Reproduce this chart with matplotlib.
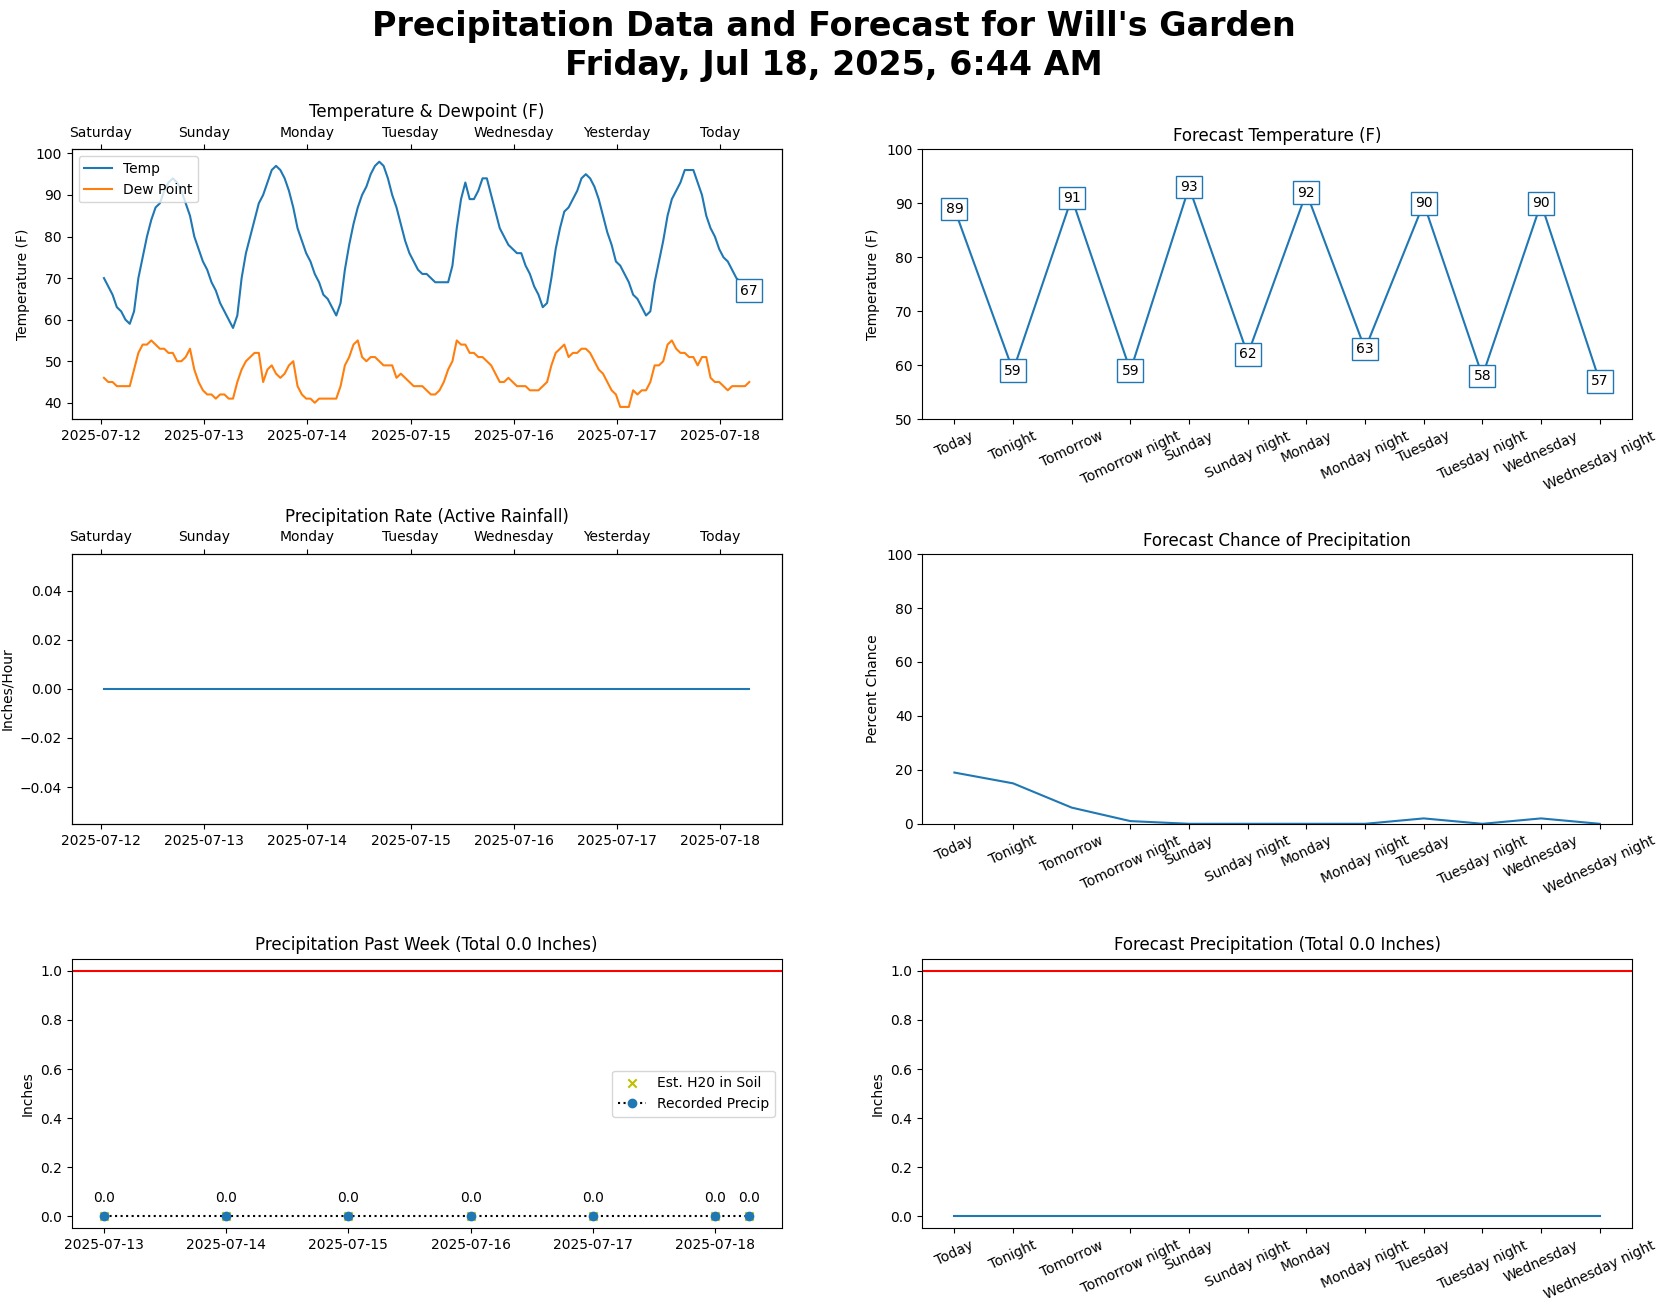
import pandas as pd
import numpy as np
import matplotlib
matplotlib.use("Agg")
import matplotlib.pyplot as plt
import matplotlib.dates as mdates

# hourly observations, Jul 12 00:44 -> Jul 18 06:44
times = pd.date_range("2025-07-12 00:44", periods=151, freq="h")

temp = [70, 68, 66, 63, 62, 60, 59, 62, 70, 75, 80, 84, 87, 88, 91, 93, 94, 93, 91, 88, 85, 80, 77, 74,
        72, 69, 67, 64, 62, 60, 58, 61, 70, 76, 80, 84, 88, 90, 93, 96, 97, 96, 94, 91, 87, 82, 79, 76,
        74, 71, 69, 66, 65, 63, 61, 64, 72, 78, 83, 87, 90, 92, 95, 97, 98, 97, 94, 90, 87, 83, 79, 76,
        74, 72, 71, 71, 70, 69, 69, 69, 69, 73, 82, 89, 93, 89, 89, 91, 94, 94, 90, 86, 82, 80, 78, 77,
        76, 76, 73, 71, 68, 66, 63, 64, 70, 77, 82, 86, 87, 89, 91, 94, 95, 94, 92, 89, 85, 81, 78, 74,
        73, 71, 69, 66, 65, 63, 61, 62, 69, 74, 79, 85, 89, 91, 93, 96, 96, 96, 93, 90, 85, 82, 80, 77,
        75, 74, 72, 70, 69, 68, 67]

dewpoint = [46, 45, 45, 44, 44, 44, 44, 48, 52, 54, 54, 55, 54, 53, 53, 52, 52, 50, 50, 51, 53, 48, 45, 43,
            42, 42, 41, 42, 42, 41, 41, 45, 48, 50, 51, 52, 52, 45, 48, 49, 47, 46, 47, 49, 50, 44, 42, 41,
            41, 40, 41, 41, 41, 41, 41, 44, 49, 51, 54, 55, 51, 50, 51, 51, 50, 49, 49, 49, 46, 47, 46, 45,
            44, 44, 44, 43, 42, 42, 43, 45, 48, 50, 55, 54, 54, 52, 52, 51, 51, 50, 49, 47, 45, 45, 46, 45,
            44, 44, 44, 43, 43, 43, 44, 45, 49, 52, 53, 54, 51, 52, 52, 53, 53, 52, 50, 48, 47, 45, 43, 42,
            39, 39, 39, 43, 42, 43, 43, 45, 49, 49, 50, 54, 55, 53, 52, 52, 51, 51, 49, 51, 51, 46, 45, 45,
            44, 43, 44, 44, 44, 44, 45]

rain_rate = [0.0] * 151

day_names = ["Saturday", "Sunday", "Monday", "Tuesday", "Wednesday", "Yesterday", "Today"]
day_ticks = pd.date_range("2025-07-12", periods=7, freq="D")

precip_dates = pd.to_datetime(["2025-07-13 00:00", "2025-07-14 00:00", "2025-07-15 00:00", "2025-07-16 00:00",
                               "2025-07-17 00:00", "2025-07-18 00:00", "2025-07-18 06:44"])
precip_vals = [0.0, 0.0, 0.0, 0.0, 0.0, 0.0, 0.0]
soil_h2o = [0.0, 0.0, 0.0, 0.0, 0.0, 0.0, 0.0]

periods = ["Today", "Tonight", "Tomorrow", "Tomorrow night", "Sunday", "Sunday night", "Monday",
           "Monday night", "Tuesday", "Tuesday night", "Wednesday", "Wednesday night"]
fc_temp = [89, 59, 91, 59, 93, 62, 92, 63, 90, 58, 90, 57]
fc_pop = [19, 15, 6, 1, 0, 0, 0, 0, 2, 0, 2, 0]
fc_precip = [0.0] * 12

box = dict(boxstyle="square", fc="white", ec="C0")

fig, axs = plt.subplots(3, 2, figsize=(16.67, 13.11), dpi=100)
fig.subplots_adjust(left=0.043, right=0.979, top=0.886, bottom=0.063, wspace=0.198, hspace=0.5)
fig.suptitle("Precipitation Data and Forecast for Will's Garden\nFriday, Jul 18, 2025, 6:44 AM",
             fontsize=24, fontweight="bold", y=0.992)


def add_day_axis(ax):
    top = ax.twiny()
    top.set_xlim(ax.get_xlim())
    top.set_xticks(mdates.date2num(day_ticks))
    top.set_xticklabels(day_names)
    return top


def date_fmt(ax):
    ax.xaxis.set_major_locator(mdates.DayLocator())
    ax.xaxis.set_major_formatter(mdates.DateFormatter("%Y-%m-%d"))


# temperature & dewpoint
ax = axs[0, 0]
ax.plot(times, temp, label="Temp")
ax.plot(times, dewpoint, label="Dew Point")
ax.annotate(str(temp[-1]), (times[-1], temp[-1]), ha="center", va="center", bbox=box)
ax.set_ylabel("Temperature (F)")
ax.legend(loc="upper left")
date_fmt(ax)
add_day_axis(ax)
ax.set_title("Temperature & Dewpoint (F)")

# precipitation rate
ax = axs[1, 0]
ax.plot(times, rain_rate)
ax.set_ylabel("Inches/Hour")
date_fmt(ax)
add_day_axis(ax)
ax.set_title("Precipitation Rate (Active Rainfall)")

# precipitation past week
ax = axs[2, 0]
ax.scatter(precip_dates, soil_h2o, marker="x", color="y", label="Est. H20 in Soil")
ax.plot(precip_dates, precip_vals, "o:", color="black", mfc="C0", mec="C0", label="Recorded Precip")
for d, v in zip(precip_dates, precip_vals):
    ax.annotate(str(v), (d, v), textcoords="offset points", xytext=(0, 10), ha="center")
ax.axhline(1.0, color="red")
ax.set_ylabel("Inches")
date_fmt(ax)
ax.legend(loc="center right")
ax.set_title("Precipitation Past Week (Total %.1f Inches)" % sum(precip_vals))

# forecast temperature
x = np.arange(len(periods))
ax = axs[0, 1]
ax.plot(x, fc_temp)
for i, v in enumerate(fc_temp):
    ax.annotate(str(v), (i, v), ha="center", va="center", bbox=box)
ax.set_ylim(50, 100)
ax.set_ylabel("Temperature (F)")
ax.set_title("Forecast Temperature (F)")

# forecast chance of precip
ax = axs[1, 1]
ax.plot(x, fc_pop)
ax.set_ylim(0, 100)
ax.set_ylabel("Percent Chance")
ax.set_title("Forecast Chance of Precipitation")

# forecast precip
ax = axs[2, 1]
ax.plot(x, fc_precip)
ax.axhline(1.0, color="red")
ax.set_ylabel("Inches")
ax.set_title("Forecast Precipitation (Total %.1f Inches)" % sum(fc_precip))

for ax in axs[:, 1]:
    ax.set_xticks(x)
    ax.set_xticklabels(periods, rotation=25, ha="center")

fig.savefig("out.png")
